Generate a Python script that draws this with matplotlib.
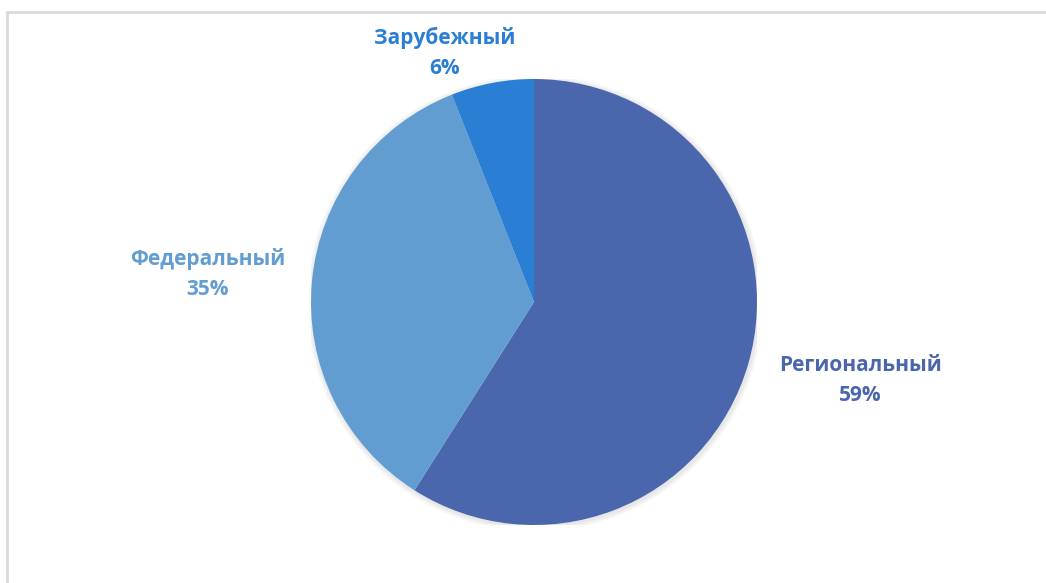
import matplotlib
matplotlib.use("Agg")
import matplotlib.pyplot as plt
from matplotlib.patches import Rectangle

categories = ["Региональный", "Федеральный", "Зарубежный"]
values = [59, 35, 6]
colors = ["#4A66AC", "#629DD1", "#2A7FD5"]
# label positions in axes data units (pie radius = 1)
label_pos = [(1.462, -0.352), (-1.462, 0.127), (-0.400, 1.118)]

W, H = 1046, 583
fig = plt.figure(figsize=(W / 100, H / 100), dpi=100)
fig.patch.set_facecolor("white")

# chart frame
fig.add_artist(Rectangle((7 / W, -0.05), 1.2, (H - 12) / H + 0.05, transform=fig.transFigure,
                         fill=False, edgecolor="#D9D9D9", linewidth=2))

cx, cy, r = 534, 302, 223
ax = fig.add_axes([(cx - r) / W, (H - cy - r) / H, 2 * r / W, 2 * r / H])
ax.axis("off")

# soft shadow
for i in range(4):
    c = plt.Circle((0.004, -0.006), 1.0 + 0.006 * (i + 1), color="black", alpha=0.025, lw=0, zorder=0)
    ax.add_patch(c)

wedges, _ = ax.pie(values, colors=colors, startangle=90, counterclock=False, radius=1,
                   wedgeprops=dict(linewidth=0))
for w in wedges:
    w.set_zorder(2)
ax.set_xlim(-1, 1)
ax.set_ylim(-1, 1)
ax.set_aspect("equal")

for cat, v, col, (x, y) in zip(categories, values, colors, label_pos):
    ax.text(x, y, f"{cat}\n{v}%", ha="center", va="center", color=col,
            fontsize=15, fontweight="bold", family="Open Sans", linespacing=1.55,
            clip_on=False)

fig.savefig("out.png", dpi=100, facecolor="white")
